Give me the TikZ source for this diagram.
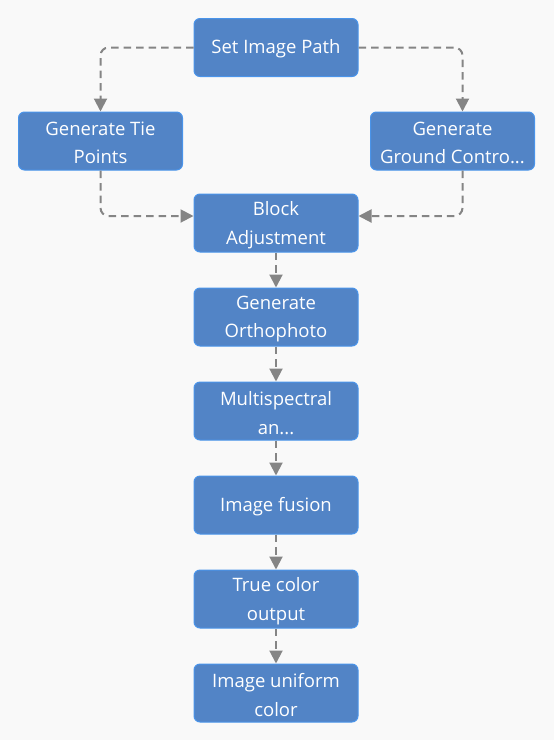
\documentclass[tikz,border=0pt]{standalone}
\usepackage{fontspec}
\setmainfont{Open Sans}
\usetikzlibrary{arrows.meta}
\definecolor{bg}{HTML}{F9F9F9}
\definecolor{boxfill}{HTML}{5284C6}
\definecolor{boxline}{HTML}{4A94EA}
\definecolor{edge}{HTML}{858585}
\begin{document}
\begin{tikzpicture}[x=1pt,y=-1pt,
  procbox/.style={draw=boxline, line width=1pt, fill=boxfill, rounded corners=6pt,
    minimum width=164pt, minimum height=58pt, inner sep=0pt, text=white,
    align=center, font=\fontsize{18.5}{28.5}\selectfont},
  boxtext/.style={text=white, align=center, inner sep=0pt, font=\fontsize{18.5}{28.5}\selectfont},
  flow/.style={draw=edge, line width=2pt, dash pattern=on 7.5pt off 5pt,
    rounded corners=8pt, -{Triangle[length=13pt,width=13pt]}}]
\fill[bg] (0,0) rectangle (554,740);
\useasboundingbox (0,0) rectangle (554,740);
\node[procbox] (set) at (276,47.5) {};
\node[procbox] (tie) at (100.5,141) {};
\node[procbox] (gcp) at (452.5,141) {};
\node[procbox] (block) at (276,223) {};
\node[procbox] (ortho) at (276,317) {};
\node[procbox] (multi) at (276,411) {};
\node[procbox] (fusion) at (276,505) {};
\node[procbox] (truec) at (276,599) {};
\node[procbox] (unif) at (276,693) {};
\node[boxtext] (setT) at ([yshift=-1.5pt]set.center) {Set Image Path};
\node[boxtext] (tieT) at ([yshift=-2pt]tie.center) {Generate Tie\\Points};
\node[boxtext] (gcpT) at ([yshift=-2pt]gcp.center) {Generate\\Ground Contro...};
\node[boxtext] (blockT) at ([yshift=-2pt]block.center) {Block\\Adjustment};
\node[boxtext] (orthoT) at ([yshift=-2pt]ortho.center) {Generate\\Orthophoto};
\node[boxtext] (multiT) at ([yshift=-2pt]multi.center) {Multispectral\\an...};
\node[boxtext] (fusionT) at ([yshift=-1.5pt]fusion.center) {Image fusion};
\node[boxtext] (truecT) at ([yshift=-2pt]truec.center) {True color\\output};
\node[boxtext] (unifT) at ([yshift=-2pt]unif.center) {Image uniform\\color};
\draw[flow] (set.west) -| (tie.north);
\draw[flow] (set.east) -| ([xshift=10pt]gcp.north);
\draw[flow] (tie.south) |- ([yshift=7pt]block.west);
\draw[flow] ([xshift=10pt]gcp.south) |- ([yshift=7pt]block.east);
\draw[flow] (block) -- (ortho);
\draw[flow] (ortho) -- (multi);
\draw[flow] (multi) -- (fusion);
\draw[flow] (fusion) -- (truec);
\draw[flow] (truec) -- (unif);
\end{tikzpicture}
\end{document}
